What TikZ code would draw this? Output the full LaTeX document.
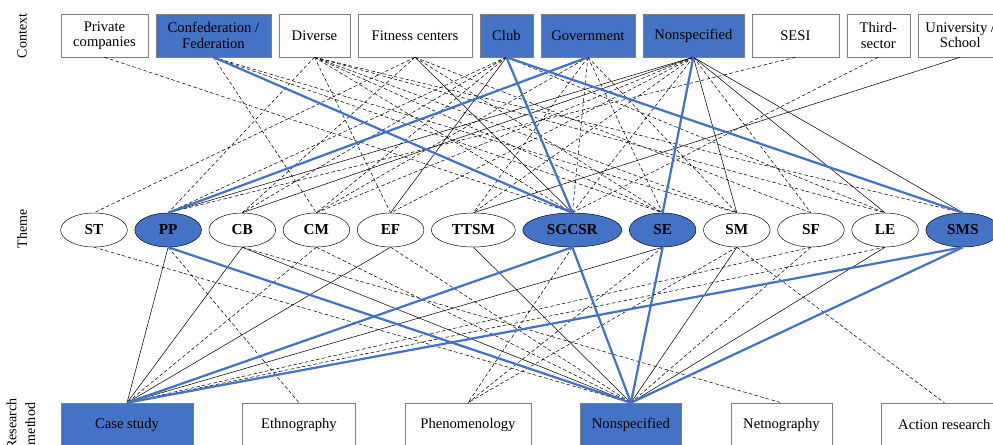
\documentclass[tikz,border=0pt]{standalone}
\usepackage{fontspec}
\setmainfont{Liberation Serif}
\usepackage{tikz}
\usetikzlibrary{positioning,shapes.geometric}
\definecolor{boxblue}{HTML}{4472C4}
\definecolor{boxgray}{HTML}{7F7F7F}

\begin{document}
\begin{tikzpicture}[x=0.03cm, y=-0.03cm,
  ctx/.style={draw=boxgray, align=center, font=\fontsize{12.5}{13}\selectfont,
              minimum height=1.29cm, inner sep=1pt, fill=white},
  mth/.style={ctx, minimum height=1.29cm},
  thm/.style={draw, ellipse, font=\fontsize{13}{14}\selectfont\bfseries,
              minimum height=1.02cm, minimum width=2cm, inner sep=0pt, fill=white},
  sel/.style={fill=boxblue},
  dsh/.style={densely dashed, line width=0.45pt},
  sld/.style={line width=0.45pt},
  hl/.style={boxblue, line width=1.9pt},
  axis/.style={rotate=90, align=center, font=\fontsize{12}{16}\selectfont},
  node distance=0.225cm
]
  \useasboundingbox (0,0) rectangle (993,444);

  % context
  \node[ctx, minimum width=2.61cm] (priv) at (104.5,35.5) {Private\\companies};
  \node[ctx, sel, minimum width=3.45cm, right=of priv] (conf) {Confederation /\\Federation};
  \node[ctx, minimum width=2.13cm, right=of conf] (div) {Diverse};
  \node[ctx, minimum width=3.42cm, right=of div] (fit) {Fitness centers};
  \node[ctx, sel, minimum width=1.59cm, right=of fit] (club) {Club};
  \node[ctx, sel, minimum width=2.82cm, right=of club] (gov) {Government};
  \node[ctx, sel, minimum width=3.03cm, right=of gov] (nonc) {Nonspecified};
  \node[ctx, minimum width=2.61cm, right=of nonc] (sesi) {SESI};
  \node[ctx, minimum width=1.89cm, right=of sesi] (third) {Third-\\sector};
  \node[ctx, minimum width=2.55cm, right=of third] (univ) {University /\\School};

  % theme
  \begin{scope}[node distance=0.21cm]
  \node[thm] (st) at (94,230) {ST};
  \node[thm, sel, right=of st] (pp) {PP};
  \node[thm, right=of pp] (cb) {CB};
  \node[thm, right=of cb] (cm) {CM};
  \node[thm, right=of cm] (ef) {EF};
  \node[thm, minimum width=2.52cm, right=of ef] (ttsm) {TTSM};
  \node[thm, sel, minimum width=2.97cm, right=of ttsm] (sgcsr) {SGCSR};
  \node[thm, sel, right=of sgcsr] (se) {SE};
  \node[thm, right=of se] (sm) {SM};
  \node[thm, right=of sm] (sf) {SF};
  \node[thm, right=of sf] (le) {LE};
  \node[thm, sel, minimum width=2.22cm, right=of le] (sms) {SMS};
  \end{scope}

  % research method
  \begin{scope}[node distance=1.47cm]
  \node[mth, sel, minimum width=3.96cm] (cs) at (127,424.5) {Case study};
  \node[mth, minimum width=3.39cm, right=of cs] (eth) {Ethnography};
  \node[mth, minimum width=3.78cm, right=of eth] (phen) {Phenomenology};
  \node[mth, sel, minimum width=3.03cm, right=of phen] (nonm) {Nonspecified};
  \node[mth, minimum width=3.03cm, right=of nonm] (net) {Netnography};
  \node[mth, minimum width=3.78cm, right=of net] (ar) {Action research};
  \end{scope}

  \node[axis] (lctx) at (22,36) {Context};
  \node[axis] (lthm) at (22,229) {Theme};
  \node[axis] (lmth) at (21,424) {Research\\method};

  % context - theme
  \draw[dsh] (priv.south) -- (sgcsr.north);
  \draw[dsh] (conf.south) -- (cm.north);
  \draw[dsh] (conf.south) -- (se.north);
  \draw[dsh] (conf.south) -- (sm.north);
  \draw[dsh] (div.south) -- (pp.north);
  \draw[dsh] (div.south) -- (ef.north);
  \draw[dsh] (div.south) -- (sgcsr.north);
  \draw[dsh] (div.south) -- (se.north);
  \draw[dsh] (div.south) -- (sm.north);
  \draw[dsh] (div.south) -- (le.north);
  \draw[dsh] (div.south) -- (sms.north);
  \draw[dsh] (fit.south) -- (st.north);
  \draw[dsh] (fit.south) -- (cb.north);
  \draw[dsh] (fit.south) -- (se.north);
  \draw[dsh] (fit.south) -- (sf.north);
  \draw[dsh] (club.south) -- (pp.north);
  \draw[dsh] (club.south) -- (cb.north);
  \draw[dsh] (club.south) -- (cm.north);
  \draw[dsh] (club.south) -- (le.north);
  \draw[dsh] (gov.south) -- (cm.north);
  \draw[dsh] (gov.south) -- (ttsm.north);
  \draw[dsh] (gov.south) -- (sgcsr.north);
  \draw[dsh] (gov.south) -- (se.north);
  \draw[dsh] (gov.south) -- (sm.north);
  \draw[dsh] (nonc.south) -- (cm.north);
  \draw[dsh] (nonc.south) -- (ef.north);
  \draw[dsh] (nonc.south) -- (ttsm.north);
  \draw[dsh] (nonc.south) -- (sgcsr.north);
  \draw[dsh] (nonc.south) -- (sf.north);
  \draw[dsh] (sesi.south) -- (pp.north);
  \draw[dsh] (third.south) -- (sgcsr.north);
  \draw[sld] (fit.south) -- (sgcsr.north);
  \draw[sld] (club.south) -- (ef.north);
  \draw[sld] (nonc.south) -- (pp.north);
  \draw[sld] (nonc.south) -- (cb.north);
  \draw[sld] (nonc.south) -- (sm.north);
  \draw[sld] (nonc.south) -- (le.north);
  \draw[sld] (nonc.south) -- (sms.north);
  \draw[sld] (univ.south) -- (ttsm.north);
  \draw[hl] (conf.south) -- (sgcsr.north);
  \draw[hl] (club.south) -- (sgcsr.north);
  \draw[hl] (club.south) -- (sms.north);
  \draw[hl] (gov.south) -- (pp.north);
  \draw[hl] (nonc.south) -- (se.north);

  % theme - research method
  \draw[dsh] (st.south) -- (nonm.north);
  \draw[dsh] (pp.south) -- (eth.north);
  \draw[dsh] (cb.south) -- (net.north);
  \draw[dsh] (cm.south) -- (cs.north);
  \draw[dsh] (cm.south) -- (nonm.north);
  \draw[dsh] (ef.south) -- (nonm.north);
  \draw[dsh] (sgcsr.south) -- (phen.north);
  \draw[dsh] (se.south) -- (phen.north);
  \draw[dsh] (sm.south) -- (phen.north);
  \draw[dsh] (sm.south) -- (ar.north);
  \draw[dsh] (sf.south) -- (cs.north);
  \draw[dsh] (sf.south) -- (nonm.north);
  \draw[dsh] (le.south) -- (cs.north);
  \draw[sld] (pp.south) -- (cs.north);
  \draw[sld] (cb.south) -- (cs.north);
  \draw[sld] (cb.south) -- (nonm.north);
  \draw[sld] (ef.south) -- (cs.north);
  \draw[sld] (ttsm.south) -- (nonm.north);
  \draw[sld] (se.south) -- (cs.north);
  \draw[sld] (sm.south) -- (nonm.north);
  \draw[sld] (le.south) -- (nonm.north);
  \draw[hl] (pp.south) -- (nonm.north);
  \draw[hl] (sgcsr.south) -- (cs.north);
  \draw[hl] (sgcsr.south) -- (nonm.north);
  \draw[hl] (se.south) -- (nonm.north);
  \draw[hl] (sms.south) -- (cs.north);
  \draw[hl] (sms.south) -- (nonm.north);
\end{tikzpicture}
\end{document}
